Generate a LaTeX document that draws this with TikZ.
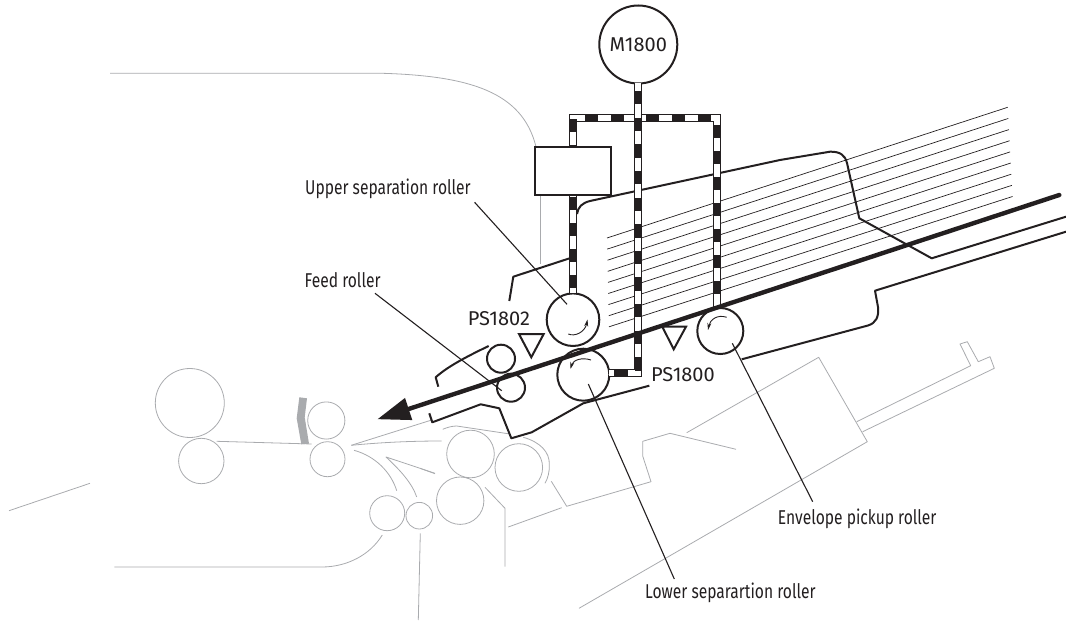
\documentclass[tikz,border=0pt]{standalone}
\usepackage{fontspec}
\setmainfont{Fira Sans}
\newfontfamily\condfont[FakeStretch=0.78]{Fira Sans}
\usetikzlibrary{arrows.meta}
\definecolor{ink}{HTML}{231F20}
\definecolor{ghost}{HTML}{A9ABAE}
\tikzset{
  ghostline/.style={draw=ghost,line width=0.8pt,line join=round},
  roller/.style={circle,draw=ink,line width=2pt,inner sep=0pt,outer sep=0pt},
  ghostroller/.style={circle,draw=ghost,line width=0.8pt,inner sep=0pt,outer sep=0pt},
  heavy/.style={draw=ink,line width=2pt,line join=round},
  leader/.style={draw=ink,line width=1.1pt},
  sheet/.style={draw=ink,line width=0.7pt},
  sensor/.style={draw=ink,line width=2pt,line join=miter},
  turn/.style={draw=ink,line width=0.9pt,-{Stealth[length=7pt,width=4pt]}},
  tag/.style={font=\fontsize{20}{22}\selectfont,text=ink,inner sep=0pt},
  callout/.style={font=\fontsize{20}{22}\selectfont\condfont,text=ink,inner sep=0pt},
  band/.style={line width=7.4pt,draw=ink,line join=miter,
     preaction={draw=ink,line width=8pt,dash pattern=on 1000pt off 0pt},
     preaction={draw=white,line width=6.2pt,dash pattern=on 1000pt off 0pt}},
}
\begin{document}
\begin{tikzpicture}[x=1pt,y=-1pt]
\useasboundingbox (0,0) rectangle (1066,623);
% --- grey background mechanism ---
\draw[ghostline] (110,73.3) -- (382.7,73.3) .. controls (470,76) and (522,92) .. (535.8,146);
\draw[ghostline] (540.8,196) -- (540.8,264);
\node[ghostroller,minimum size=69pt] (g1) at (189.8,403) {};
\node[ghostroller,minimum size=45.4pt] (g2) at (201.3,461) {};
\node[ghostroller,minimum size=37.2pt] (g3) at (326.3,420.5) {};
\node[ghostroller,minimum size=35pt] (g4) at (327.5,459.2) {};
\node[ghostroller,minimum size=35pt] (g5) at (387.2,513.2) {};
\node[ghostroller,minimum size=26.6pt] (g6) at (419.3,515.7) {};
\node[ghostroller,minimum size=47.6pt] (g7) at (470.5,454) {};
\node[ghostroller,minimum size=47.6pt] (g8) at (518.8,467.5) {};
\node[ghostroller,minimum size=47.4pt] (g9) at (460.2,500.7) {};
\draw[ghostline] (216.7,441.3) -- (311.7,444);
\fill[ghost] (299.3,397.3) -- (307,398.3) -- (304.7,417.3) -- (309,443.7) -- (301.3,444.3) -- (296.7,418.3) -- cycle;
\draw[ghostline] (351.3,445.3) -- (431.7,420);
\draw[ghostline] (351.3,445.3) .. controls (380,442.5) and (410,441) .. (441.7,441);
\draw[ghostline] (354,450.3) .. controls (375,456) and (391,472) .. (396.7,490.7);
\draw[ghostline] (435,473.3) -- (386,457) .. controls (400,470) and (412,483) .. (416.7,497);
\draw[ghostline] (382.3,535) .. controls (370,555) and (347,567) .. (321.7,567) -- (114.3,567);
\draw[ghostline] (420.3,533.3) -- (418.3,620);
\draw[ghostline] (9,510.7) -- (90,483.3);
\draw[ghostline] (442.7,429.3) .. controls (447,427.5) and (452,426) .. (456.7,426) -- (510,434);
\draw[ghostline] (523.3,437.3) .. controls (540,442) and (550,452) .. (549.3,465) .. controls (549.5,472) and (548,478) .. (545,483.3);
\draw[ghostline] (420,468.3) -- (435,473.7);
\draw[ghostline] (485,487.3) -- (505,508.3) -- (505,566.7);
\draw[ghostline] (508.3,527) -- (561.7,507.7);
\draw[ghostline] (551.3,481.3) -- (566.7,506.3) -- (651,481.7) -- (642.7,456) -- (642.7,441.3) -- (670,433.3) -- (736,449.3);
\draw[ghostline] (686.7,432.7) -- (818.7,357.3) -- (867.3,441.7) -- (579,608.3);
\draw[ghostline] (856.7,421.7) -- (970.7,365.7) -- (960,344) -- (967.3,341.7) -- (978.3,361.7) -- (990,356.7) -- (994.3,368.3) -- (862.7,431.7);
% --- paper stack ---
\foreach \i in {0,...,8}{
  \draw[sheet] (607+0.25*\i,238+11.1*\i) -- (1007.7+0.6*\i,107.3+11.15*\i);
}
% --- heavy outlines ---
\draw[heavy] (577,214) .. controls (578,207) and (582,203) .. (590,201) -- (780,160) -- (830,151.7) .. controls (840,151.5) and (845,155) .. (847,163) -- (859.3,218.3) -- (931.7,258.3) -- (1066,216.7);
\draw[heavy] (1066,231.7) -- (875,290.7) -- (878,307) .. controls (879,317) and (876,323) .. (868,325.5) -- (741.7,359.3);
\draw[heavy] (509.3,301) -- (513.3,276.7) -- (569,258.5);
\draw[heavy] (488.7,346) .. controls (470,355) and (448,366) .. (435.7,377.3) -- (438.3,386.7);
\draw[heavy] (429.3,413.3) -- (432.3,422.3) -- (480.7,404.3) -- (499.3,408.3) -- (511.3,438.3) -- (531.7,432.3) -- (583.3,403.3) -- (649.3,385.7);
% --- rollers ---
\node[roller,minimum size=78pt] (motor) at (638.3,44.5) {};
\node[tag] (motorname) at (motor.center) {M1800};
\node[roller,minimum size=52.6pt] (upper) at (573,319.7) {};
\node[roller,minimum size=52pt] (lower) at (583.3,374.7) {};
\node[roller,minimum size=28pt] (feedA) at (501,358.7) {};
\node[roller,minimum size=28pt] (feedB) at (511,387.7) {};
\node[roller,minimum size=46pt] (pickup) at (720.3,331) {};
% --- drive belts ---
\coordinate (junction) at (motor.south |- 0,118);
\coordinate (leftcorner) at (upper.north |- 0,118);
\coordinate (rightcorner) at (717,118);
\coordinate (bottomcorner) at (motor.south |- 0,373);
\path[band,dash pattern=on 13pt off 13pt,dash phase=11.3pt,draw] (junction) -- (leftcorner) -- (upper.north);
\path[band,dash pattern=on 13pt off 13pt,dash phase=18.3pt,draw] (junction) -- (rightcorner) -- (rightcorner |- pickup.north);
\path[band,dash pattern=on 13.3pt off 13.3pt,dash phase=18.9pt,draw] (motor.south) -- (bottomcorner) -- (lower.east |- bottomcorner);
\node[draw=ink,fill=white,line width=2pt,minimum width=76pt,minimum height=48pt,inner sep=0pt] (clutch) at (573,171) {};
% --- main paper path arrow ---
\coordinate (pathstart) at (1059.3,195);
\coordinate (pathtip) at (377.3,419.3);
\draw[draw=ink,line width=4.4pt,line cap=round,-{Triangle[length=33pt,width=22pt,fill=ink]}] (pathstart) -- (pathtip);
% --- rotation arrows ---
\draw[turn] (568.3,334) .. controls (575,337) and (585,332) .. (587.5,319.5);
\draw[turn] (591,360) .. controls (582,357) and (573,360) .. (570.5,369);
\draw[turn] (726.7,317.3) .. controls (717,314) and (710,320) .. (708,330);
% --- sensors ---
\draw[sensor] (519,334) -- (543.7,334) -- (531.3,357.3) -- cycle;
\draw[sensor] (662.3,326.7) -- (686,326.7) -- (673.7,349.3) -- cycle;
\node[tag,anchor=west] (ps1802) at (467.7,318.3) {PS1802};
\node[tag,anchor=west] (ps1800) at (651,375) {PS1800};
% --- labels and leaders ---
\node[callout,anchor=west] (upperlabel) at (305,189) {Upper separation roller};
\node[callout,anchor=west] (feedlabel) at (304.5,280) {Feed roller};
\node[callout,anchor=west] (lowerlabel) at (645,592.7) {Lower separartion roller};
\node[callout,anchor=west] (pickuplabel) at (777.7,519) {Envelope pickup roller};
\coordinate (uppertop) at (474.6,202.3);
\coordinate (upperend) at (567,304.3);
\coordinate (feedtop) at (375,293.3);
\coordinate (feedend) at (501.7,390.7);
\coordinate (lowertop) at (588.3,384);
\coordinate (lowerend) at (674.3,579);
\coordinate (pickuptop) at (732.3,343.3);
\coordinate (pickupend) at (812.7,501.7);
\draw[leader] (uppertop) -- (upperend);
\draw[leader] (feedtop) -- (feedend);
\draw[leader] (lowertop) -- (lowerend);
\draw[leader] (pickuptop) -- (pickupend);
\end{tikzpicture}
\end{document}
